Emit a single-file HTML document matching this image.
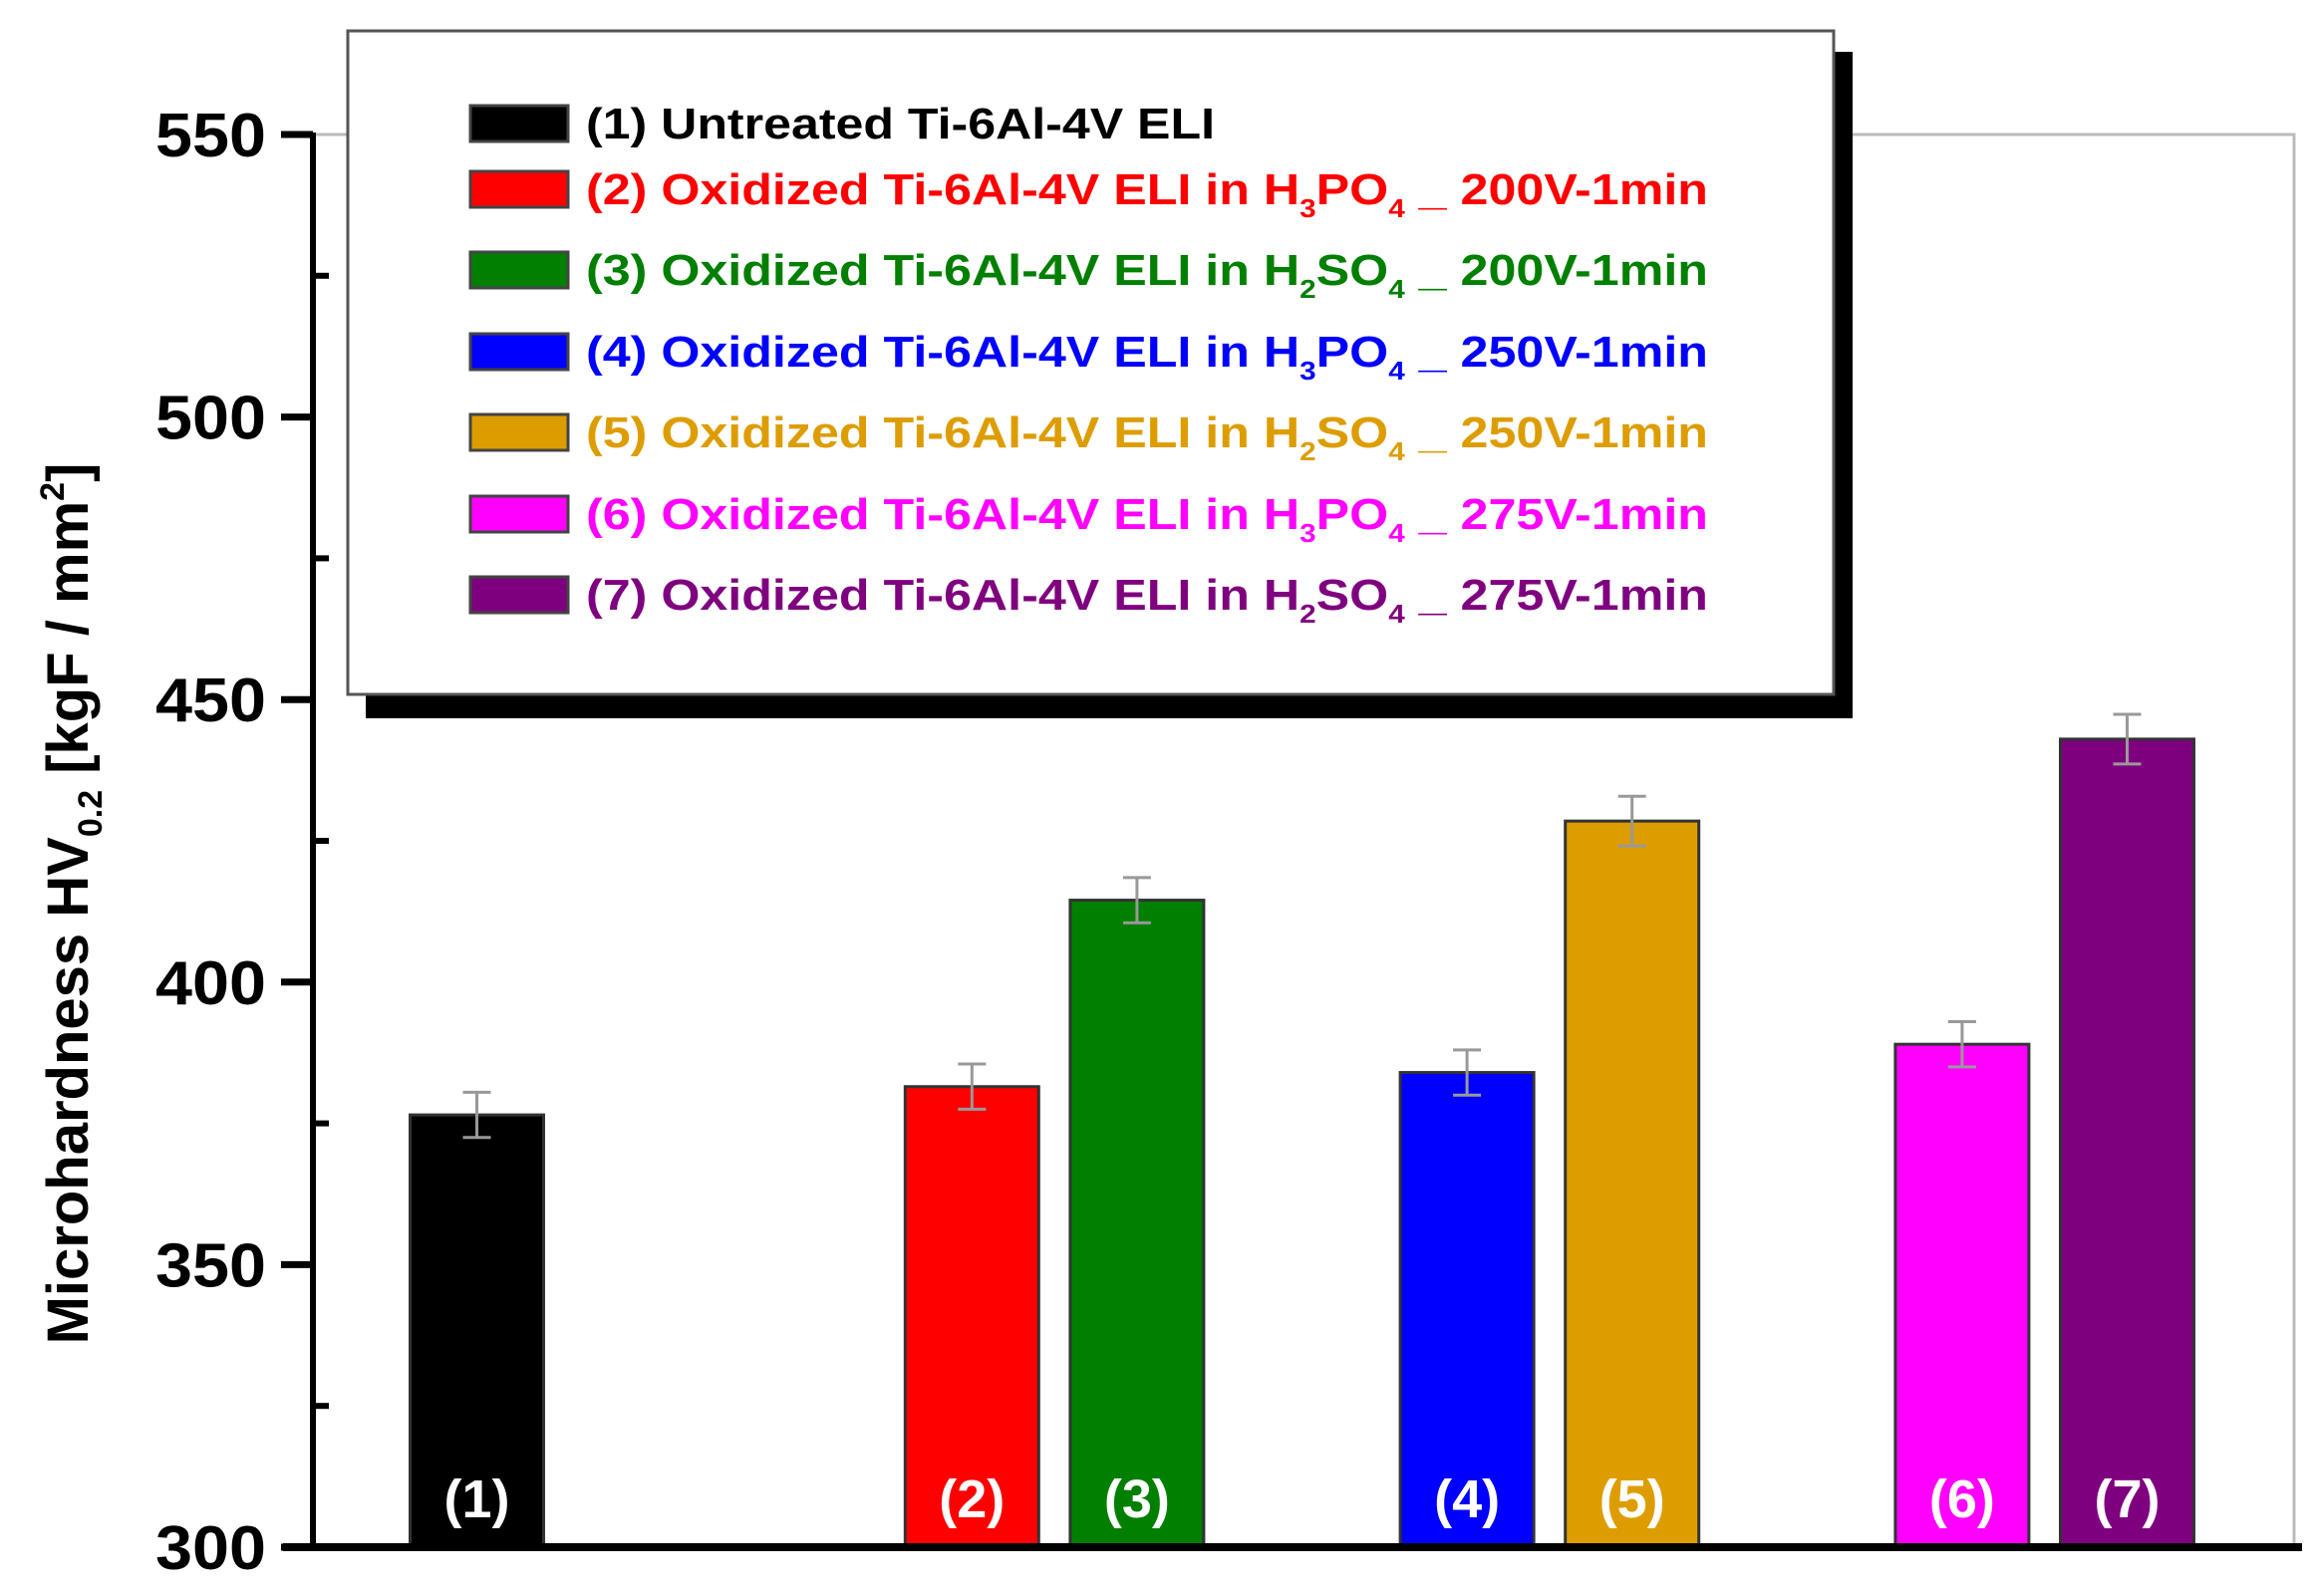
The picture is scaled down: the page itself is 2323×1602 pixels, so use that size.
<!DOCTYPE html>
<html><head><meta charset="utf-8"><style>
html,body{margin:0;padding:0;background:#fff;}
svg{display:block;font-family:"Liberation Sans",Arial,sans-serif;}
</style></head><body>
<svg id="chart" width="2323" height="1602" viewBox="0 0 2323 1602" xmlns="http://www.w3.org/2000/svg">
<rect x="0" y="0" width="2323" height="1602" fill="#fff"/>
<g id="frame"></g>
<g id="bars"></g>
<g id="axes"></g>
<g id="legend"></g>
</svg>
<script>
const categories = ["(1)","(2)","(3)","(4)","(5)","(6)","(7)"];
const values = [376.5, 381.5, 414.5, 384, 428.5, 389, 443];
const errors = [4, 4, 4, 4, 4.4, 4, 4.4];
const positions = [1, 4, 5, 7, 8, 10, 11];
const colors = ["#000000","#ff0000","#007f00","#0000ff","#dd9d00","#ff00ff","#7f007f"];
const yTicks = [300, 350, 400, 450, 500, 550];
const legendLabels = [
  ["(1) Untreated Ti-6Al-4V ELI","",""],
  ["(2) Oxidized Ti-6Al-4V ELI in H","3","PO","4"," _ 200V-1min"],
  ["(3) Oxidized Ti-6Al-4V ELI in H","2","SO","4"," _ 200V-1min"],
  ["(4) Oxidized Ti-6Al-4V ELI in H","3","PO","4"," _ 250V-1min"],
  ["(5) Oxidized Ti-6Al-4V ELI in H","2","SO","4"," _ 250V-1min"],
  ["(6) Oxidized Ti-6Al-4V ELI in H","3","PO","4"," _ 275V-1min"],
  ["(7) Oxidized Ti-6Al-4V ELI in H","2","SO","4"," _ 275V-1min"]
];
const NS="http://www.w3.org/2000/svg";
function el(tag, attrs, parent){const e=document.createElementNS(NS,tag);for(const k in attrs)e.setAttribute(k,attrs[k]);parent.appendChild(e);return e;}
const x0=314, y0=1553, yTop=135;
function yScale(v){return y0-(v-300)/250*(y0-yTop);}
function xScale(p){return 478.5+(p-1)*165.6;}
const bw=134;
const frame=document.getElementById('frame');
const fr=el('polyline',{points:`${x0},${yTop} 2302,${yTop} 2302,${y0}`,fill:'none',stroke:'#bbb','stroke-width':3},frame);


const bars=document.getElementById('bars');
values.forEach((v,i)=>{
  const cx=xScale(positions[i]);
  const y=yScale(v);
  const r=el('rect',{x:cx-bw/2,y:y,width:bw,height:y0-y,fill:colors[i],stroke:'#333','stroke-width':3},bars);
  
  
  const e1=yScale(v+errors[i]), e2=yScale(v-errors[i]);
  const eb=el('path',{d:`M${cx},${e1}V${e2}M${cx-14},${e1}H${cx+14}M${cx-14},${e2}H${cx+14}`,stroke:'#999','stroke-width':3,fill:'none'},bars);
  
  
  const t=el('text',{x:cx,y:1523,'text-anchor':'middle','font-size':54,'font-weight':'bold',fill:'#fff'},bars);
  t.textContent=categories[i];
  
  
});
const axes=document.getElementById('axes');
const ya=el('line',{x1:x0,y1:yTop-2,x2:x0,y2:y0,stroke:'#000','stroke-width':6},axes);


const xa=el('line',{x1:x0-30,y1:y0,x2:2310,y2:y0,stroke:'#000','stroke-width':8},axes);


yTicks.forEach((v,i)=>{
  const y=yScale(v);
  const tk=el('line',{x1:x0-32,y1:y,x2:x0,y2:y,stroke:'#000','stroke-width':7},axes);
  
  
  const t=el('text',{x:156,y:y+22,'font-size':62,'font-weight':'bold',fill:'#000',textLength:111,lengthAdjust:'spacingAndGlyphs'},axes);
  t.textContent=v;
  
  
  if(i<yTicks.length-1){
    const m=el('line',{x1:x0,y1:yScale(v+25),x2:x0+16,y2:yScale(v+25),stroke:'#000','stroke-width':6},axes);
    
    
  }
});
const yt=el('text',{transform:'translate(88,907) rotate(-90)','text-anchor':'middle','font-size':58,'font-weight':'bold',fill:'#000'},axes);


yt.innerHTML='Microhardness HV<tspan font-size="34" dy="14">0.2</tspan><tspan dy="-14">   [kgF / mm</tspan><tspan font-size="34" dy="-24">2</tspan><tspan dy="24">]</tspan>';
const lg=document.getElementById('legend');
const sh=el('rect',{x:367,y:52,width:1492,height:669,fill:'#000'},lg);


const box=el('rect',{x:349,y:31,width:1491,height:666,fill:'#fff',stroke:'#555','stroke-width':3},lg);


const rowY=[124,190,271,353,434,516,597];
legendLabels.forEach((lab,i)=>{
  const g=el('g',{},lg);
  
  
  const s=el('rect',{x:472,y:rowY[i]-18,width:98,height:36,fill:colors[i],stroke:'#444','stroke-width':3},g);
  
  
  const t=el('text',{x:588,y:rowY[i]+15,'font-size':44,'font-weight':'bold',fill:colors[i],lengthAdjust:'spacingAndGlyphs'},g);
  
  
  if(i===0){t.textContent=lab[0];t.setAttribute('textLength',631);}
  else{
    t.setAttribute('textLength',1126);
    t.innerHTML=`${lab[0]}<tspan font-size="26" dy="13">${lab[1]}</tspan><tspan dy="-13">${lab[2]}</tspan><tspan font-size="26" dy="13">${lab[3]}</tspan><tspan dy="-13">${lab[4]}</tspan>`;
  }
});
</script>
</body></html>
